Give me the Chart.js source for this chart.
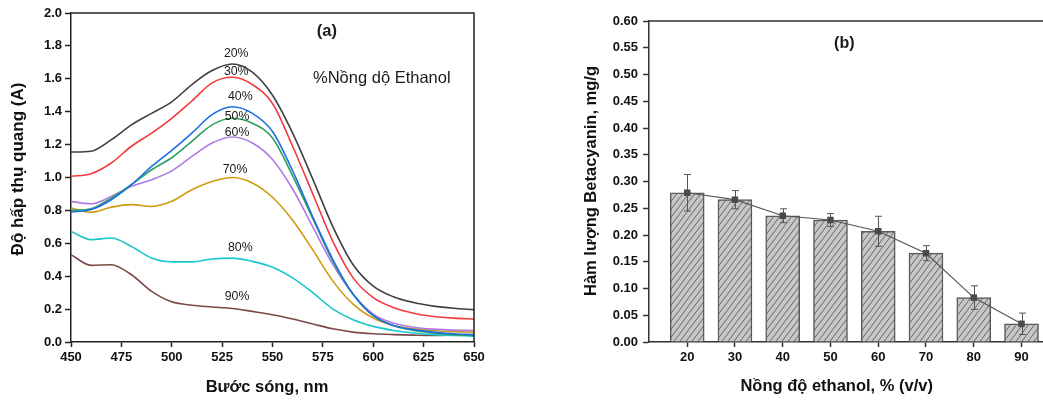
<!DOCTYPE html>
<html>
<head>
<meta charset="utf-8">
<script src="https://cdn.jsdelivr.net/npm/chart.js@4.4.1/dist/chart.umd.min.js"></script>
<style>
body { margin: 0; background: #fff; }
#specChart { position: absolute; left: 0; top: 0; }
#barChart { position: absolute; left: 540px; top: 0; }
</style>
</head>
<body>
<canvas id="specChart" width="540" height="400"></canvas>
<canvas id="barChart" width="503" height="400"></canvas>
<script>
// (a) absorption spectra, one series per ethanol concentration
const wavelengths = [450, 460, 470, 480, 490, 500, 510, 520, 530, 540, 550, 560, 570, 580, 590, 600, 610, 620, 630, 640, 650]
const concLabels = ['20%', '30%', '40%', '50%', '60%', '70%', '80%', '90%']
const abs20 = [1.155, 1.16, 1.23, 1.32, 1.39, 1.46, 1.565, 1.65, 1.69, 1.64, 1.50, 1.27, 0.99, 0.70, 0.47, 0.34, 0.275, 0.24, 0.218, 0.205, 0.197]
const abs30 = [1.007, 1.023, 1.088, 1.19, 1.27, 1.36, 1.465, 1.575, 1.609, 1.565, 1.45, 1.19, 0.90, 0.61, 0.39, 0.27, 0.21, 0.175, 0.155, 0.145, 0.14]
const abs40 = [0.79, 0.805, 0.865, 0.956, 1.067, 1.165, 1.27, 1.382, 1.43, 1.39, 1.28, 1.04, 0.76, 0.50, 0.29, 0.16, 0.10, 0.075, 0.06, 0.05, 0.045]
const abs50 = [0.80, 0.81, 0.875, 0.956, 1.047, 1.12, 1.22, 1.32, 1.36, 1.33, 1.24, 1.01, 0.75, 0.49, 0.29, 0.16, 0.10, 0.07, 0.055, 0.045, 0.04]
const abs60 = [0.855, 0.84, 0.885, 0.946, 0.987, 1.04, 1.128, 1.21, 1.246, 1.21, 1.11, 0.93, 0.70, 0.47, 0.29, 0.17, 0.115, 0.09, 0.078, 0.072, 0.07]
const abs70 = [0.815, 0.788, 0.82, 0.835, 0.824, 0.855, 0.926, 0.976, 1.0, 0.967, 0.88, 0.74, 0.56, 0.37, 0.23, 0.145, 0.10, 0.08, 0.07, 0.063, 0.06]
const abs80 = [0.672, 0.622, 0.632, 0.581, 0.51, 0.487, 0.487, 0.505, 0.51, 0.49, 0.455, 0.39, 0.30, 0.20, 0.135, 0.095, 0.07, 0.055, 0.045, 0.04, 0.035]
const abs90 = [0.531, 0.466, 0.47, 0.409, 0.308, 0.244, 0.223, 0.213, 0.204, 0.186, 0.166, 0.14, 0.11, 0.08, 0.06, 0.05, 0.045, 0.042, 0.04, 0.042, 0.045]

// (b) betacyanin content vs ethanol concentration
const ethanol = [20, 30, 40, 50, 60, 70, 80, 90]
const betacyanin = [0.279, 0.266, 0.236, 0.228, 0.207, 0.166, 0.083, 0.034]
const betaErr = [0.034, 0.017, 0.013, 0.012, 0.028, 0.014, 0.022, 0.020]

const specColors = ['#404040', '#f23b3b', '#1f6fe0', '#2f9e62', '#b07ae6', '#cf9b0e', '#1ac6cc', '#7b4a44']

Chart.defaults.font.family = "'Liberation Sans', Arial, sans-serif"
Chart.defaults.color = '#111'

function frame(withRight, color) {
	return {
		id: 'frame',
		afterDraw(chart) {
			const a = chart.chartArea
			const ctx = chart.ctx
			ctx.save()
			ctx.strokeStyle = color
			ctx.lineWidth = 1.5
			ctx.beginPath()
			ctx.moveTo(a.left, a.top)
			ctx.lineTo(a.right, a.top)
			if (withRight) ctx.lineTo(a.right, a.bottom)
			ctx.stroke()
			ctx.restore()
		}
	}
}

// text notes placed in data units
function notes(list) {
	return {
		id: 'notes',
		afterDraw(chart) {
			const ctx = chart.ctx
			ctx.save()
			ctx.fillStyle = '#1a1a1a'
			ctx.textBaseline = 'middle'
			list.forEach(function(n) {
				ctx.font = n.font
				ctx.textAlign = n.align || 'center'
				ctx.fillText(n.text, chart.scales.x.getPixelForValue(n.x), chart.scales.y.getPixelForValue(n.y))
			})
			ctx.restore()
		}
	}
}

// axis titles, the figure has them a bit off the plot centre
function axisTitles(xt, yt) {
	return {
		id: 'axisTitles',
		afterDraw(chart) {
			const ctx = chart.ctx
			ctx.save()
			ctx.fillStyle = '#111'
			ctx.textAlign = 'center'
			ctx.textBaseline = 'middle'
			ctx.font = xt.font
			ctx.fillText(xt.text, xt.x, xt.y)
			ctx.translate(yt.x, yt.y)
			ctx.rotate(-Math.PI / 2)
			ctx.font = yt.font
			ctx.fillText(yt.text, 0, 0)
			ctx.restore()
		}
	}
}

const specSeries = [abs20, abs30, abs40, abs50, abs60, abs70, abs80, abs90]
const noteFont = "12.3px 'Liberation Sans', Arial, sans-serif"
const specNotes = [
	{text: concLabels[0], x: 532, y: 1.753, font: noteFont},
	{text: concLabels[1], x: 532, y: 1.643, font: noteFont},
	{text: concLabels[2], x: 534, y: 1.49, font: noteFont},
	{text: concLabels[3], x: 532.4, y: 1.37, font: noteFont},
	{text: concLabels[4], x: 532.4, y: 1.273, font: noteFont},
	{text: concLabels[5], x: 531.4, y: 1.046, font: noteFont},
	{text: concLabels[6], x: 534, y: 0.573, font: noteFont},
	{text: concLabels[7], x: 532.4, y: 0.275, font: noteFont},
	{text: '(a)', x: 577, y: 1.886, font: "bold 16.5px 'Liberation Sans', Arial, sans-serif"},
	{text: '%Nồng dộ Ethanol', x: 570.1, y: 1.60, align: 'left', font: "16.5px 'Liberation Sans', Arial, sans-serif"}
]

var specChart = new Chart(document.getElementById('specChart'), {
	type: 'line',
	data: {
		datasets: specSeries.map(function(s, k) {
			return {
				label: concLabels[k],
				data: s.map(function(v, i) { return {x: wavelengths[i], y: v} }),
				borderColor: specColors[k],
				borderWidth: 1.6,
				pointRadius: 0,
				fill: false,
				cubicInterpolationMode: 'monotone'
			}
		})
	},
	options: {
		responsive: false,
		animation: false,
		layout: { autoPadding: false, padding: { top: 13, right: 66, bottom: 0, left: 0 } },
		plugins: { legend: { display: false }, tooltip: { enabled: false } },
		scales: {
			x: {
				type: 'linear', min: 450, max: 650,
				afterFit: function(s) { s.height = 58 },
				ticks: { stepSize: 25, padding: 3, maxRotation: 0, font: { size: 13, weight: 'bold' } },
				grid: { drawOnChartArea: false, tickLength: 5, tickWidth: 1.5, tickColor: '#222' },
				border: { color: '#222', width: 1.5 }
			},
			y: {
				min: 0, max: 2,
				afterFit: function(s) { s.width = 71 },
				ticks: { stepSize: 0.2, padding: 3, font: { size: 13, weight: 'bold' }, callback: function(v) { return v.toFixed(1) } },
				grid: { drawOnChartArea: false, tickLength: 6, tickWidth: 1.5, tickColor: '#222' },
				border: { color: '#222', width: 1.5 }
			}
		}
	},
	plugins: [frame(true, '#222'), notes(specNotes), axisTitles(
		{text: 'Bước sóng, nm', x: 267, y: 387, font: "bold 16.5px 'Liberation Sans', Arial, sans-serif"},
		{text: 'Độ hấp thụ quang (A)', x: 18.5, y: 169, font: "bold 17px 'Liberation Sans', Arial, sans-serif"}
	)]
});

// diagonal hatch for the bars
function hatch(ctx) {
	var c = document.createElement('canvas')
	c.width = 6
	c.height = 8
	var g = c.getContext('2d')
	g.fillStyle = '#c7c7c7'
	g.fillRect(0, 0, 6, 8)
	g.strokeStyle = '#5c5c5c'
	g.lineWidth = 0.9
	g.beginPath()
	for (var k = -1; k <= 1; k++) {
		g.moveTo(k * 6, 8)
		g.lineTo(k * 6 + 6, 0)
	}
	g.stroke()
	return ctx.createPattern(c, 'repeat')
}

const errorBars = {
	id: 'errorBars',
	afterDatasetDraw(chart, args) {
		if (args.index !== 0) return
		const xs = chart.scales.x
		const ys = chart.scales.y
		const ctx = chart.ctx
		ctx.save()
		ctx.strokeStyle = '#555'
		ctx.lineWidth = 1
		ethanol.forEach(function(c, i) {
			var x = Math.round(xs.getPixelForValue(c)) + 0.5
			var top = ys.getPixelForValue(betacyanin[i] + betaErr[i])
			var bot = ys.getPixelForValue(betacyanin[i] - betaErr[i])
			ctx.beginPath()
			ctx.moveTo(x, top); ctx.lineTo(x, bot)
			ctx.moveTo(x - 3.5, top); ctx.lineTo(x + 3.5, top)
			ctx.moveTo(x - 3.5, bot); ctx.lineTo(x + 3.5, bot)
			ctx.stroke()
		})
		ctx.restore()
	}
}

var barCanvas = document.getElementById('barChart')
var points = ethanol.map(function(c, i) { return {x: c, y: betacyanin[i]} })

var barChart = new Chart(barCanvas, {
	type: 'bar',
	data: {
		datasets: [{
			type: 'bar',
			data: points,
			backgroundColor: hatch(barCanvas.getContext('2d')),
			borderColor: '#5a5a5a',
			borderWidth: 1.5,
			barThickness: 34,
			order: 2
		}, {
			type: 'line',
			data: points,
			borderColor: '#555',
			borderWidth: 1.2,
			pointStyle: 'rect',
			pointRadius: 4.6,
			pointBackgroundColor: '#4a4a4a',
			pointBorderColor: '#4a4a4a',
			pointBorderWidth: 0,
			tension: 0,
			order: 1
		}]
	},
	options: {
		responsive: false,
		animation: false,
		layout: { autoPadding: false, padding: { top: 21, right: 0, bottom: 0, left: 0 } },
		plugins: { legend: { display: false }, tooltip: { enabled: false } },
		scales: {
			x: {
				type: 'linear', min: 12, max: 94.5, offset: false,
				afterBuildTicks: function(s) { s.ticks = ethanol.map(function(v) { return {value: v} }) },
				afterFit: function(s) { s.height = 58; s.paddingLeft = 0; s.paddingRight = 0 },
				ticks: { padding: 3, maxRotation: 0, autoSkip: false, font: { size: 13, weight: 'bold' } },
				grid: { offset: false, drawOnChartArea: false, tickLength: 5, tickWidth: 1.5, tickColor: '#333' },
				border: { color: '#333', width: 1.5 }
			},
			y: {
				min: 0, max: 0.6,
				afterFit: function(s) { s.width = 109 },
				ticks: { stepSize: 0.05, padding: 5, font: { size: 13, weight: 'bold' }, callback: function(v) { return v.toFixed(2) } },
				grid: { drawOnChartArea: false, tickLength: 6, tickWidth: 1.5, tickColor: '#333' },
				border: { color: '#333', width: 1.5 }
			}
		}
	},
	plugins: [errorBars, frame(false, '#333'), notes([
		{text: '(b)', x: 52.9, y: 0.558, font: "bold 16px 'Liberation Sans', Arial, sans-serif"}
	]), axisTitles(
		{text: 'Nồng độ ethanol, % (v/v)', x: 296.7, y: 386.7, font: "bold 16.5px 'Liberation Sans', Arial, sans-serif"},
		{text: 'Hàm lượng Betacyanin, mg/g', x: 51.7, y: 181, font: "bold 16.5px 'Liberation Sans', Arial, sans-serif"}
	)]
});
</script>
</body>
</html>
